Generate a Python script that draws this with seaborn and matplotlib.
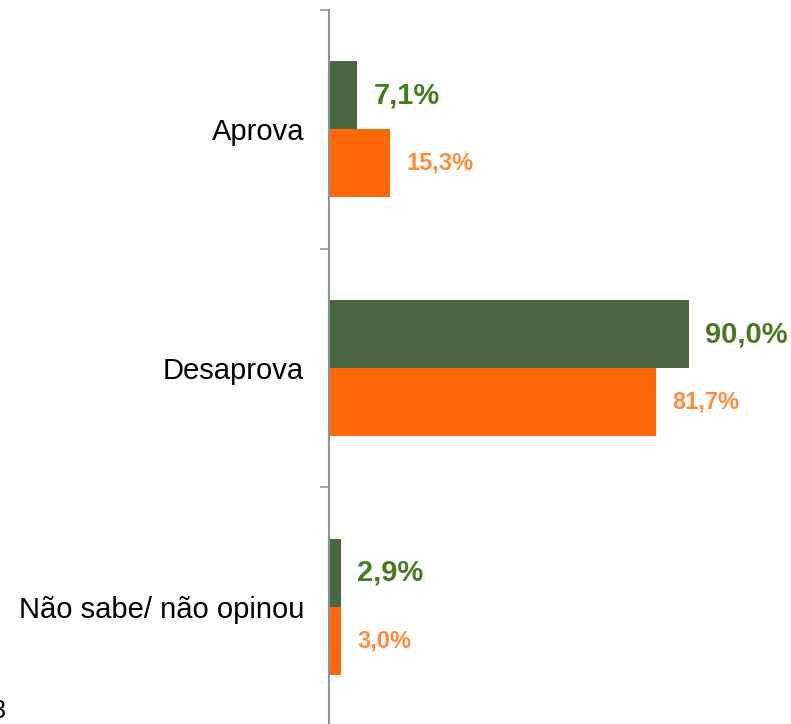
import matplotlib
matplotlib.use("Agg")
import matplotlib.pyplot as plt
import seaborn as sns
import pandas as pd
from matplotlib.ticker import FixedLocator

categories = ["Aprova", "Desaprova", "Não sabe/ não opinou"]
series_names = ["Série 1", "Série 2"]
values_s1 = [7.1, 90.0, 2.9]
values_s2 = [15.3, 81.7, 3.0]

bar_colors = ["#4A6741", "#FF6709"]
label_colors = ["#4A7A23", "#FF8C3C"]

df = pd.DataFrame({
    "categoria": categories * 2,
    "valor": values_s1 + values_s2,
    "serie": [series_names[0]] * 3 + [series_names[1]] * 3,
})

sns.set_style("white")
plt.rcParams["font.family"] = ["Liberation Sans", "DejaVu Sans"]

fig = plt.figure(figsize=(7.91, 7.24), dpi=100)
ax = fig.add_axes([329 / 791, -0.003, 1 - 329 / 791, 0.9862 + 0.003])

sns.barplot(data=df, y="categoria", x="valor", hue="serie", orient="h",
            palette=bar_colors, width=0.57, gap=0, legend=False, ax=ax,
            linewidth=0, saturation=1)

ax.set_xlim(0, (791 - 329) / 4.0)
ax.set_ylim(2.5, -0.5)
ax.set_xlabel("")
ax.set_ylabel("")
ax.set_xticks([])

for sp in ["top", "right", "bottom"]:
    ax.spines[sp].set_visible(False)
ax.spines["left"].set_color("#8E939A")
ax.spines["left"].set_linewidth(1.5)

ax.yaxis.set_minor_locator(FixedLocator([-0.5, 0.5, 1.5, 2.5]))
ax.tick_params(axis="y", which="minor", length=6.5, width=1.2, color="#8E939A", left=True)
ax.tick_params(axis="y", which="major", length=0, pad=18, labelsize=21, labelcolor="black", left=True)
for lbl in ax.get_yticklabels():
    lbl.set_y(lbl.get_position()[1])

sizes = [21, 17]
for i, cont in enumerate(ax.containers):
    vals = values_s1 if i == 0 else values_s2
    labels = [f"{v:.1f}%".replace(".", ",") for v in vals]
    ax.bar_label(cont, labels=labels, padding=11.5, fontsize=sizes[i],
                 fontweight="bold", color=label_colors[i])

fig.text(-8 / 791, 1 - 718 / 724, "3", fontsize=18, color="black")

fig.savefig("out.png", dpi=100)
